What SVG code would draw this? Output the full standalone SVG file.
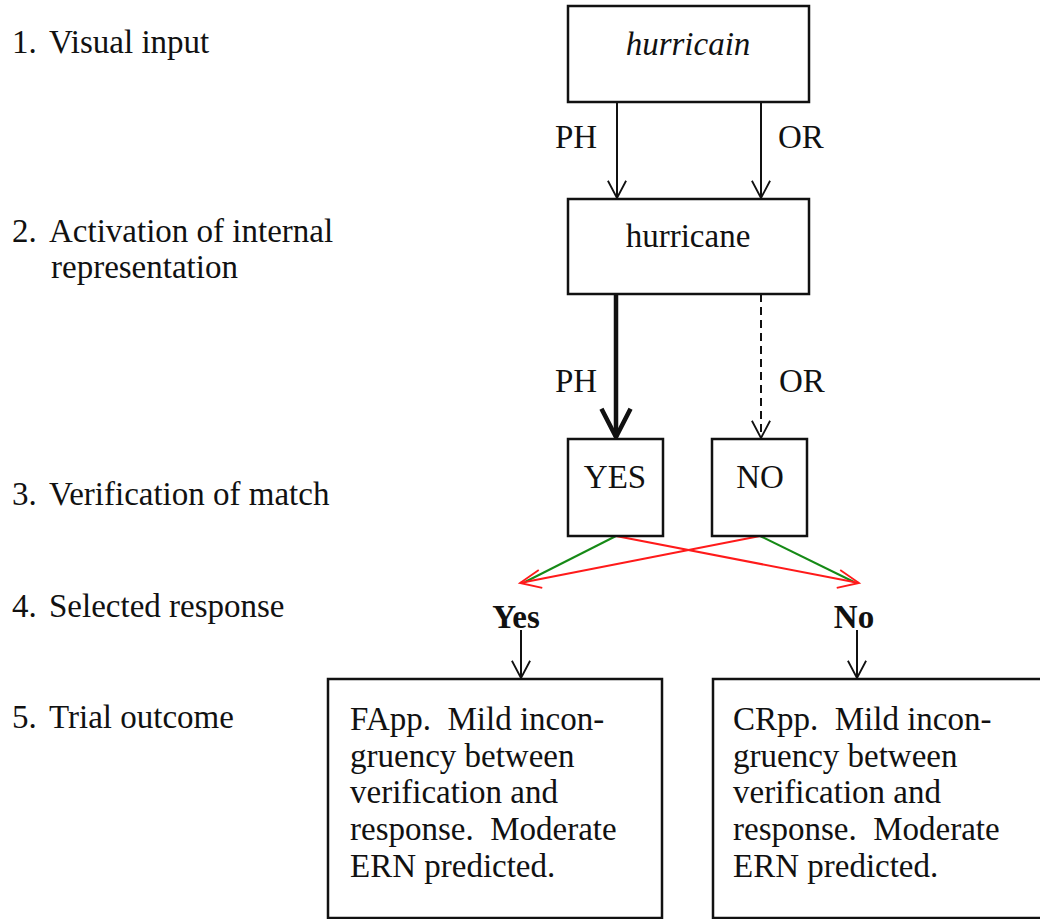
<svg xmlns="http://www.w3.org/2000/svg" width="1040" height="919" viewBox="0 0 1040 919" xml:space="preserve">
<style>
text{font-family:"Liberation Serif","Times New Roman",serif;font-size:33px;fill:#111;white-space:pre}
.box{fill:#fff;stroke:#111;stroke-width:2.5}
.ln{fill:none;stroke:#111;stroke-width:2}
.thick{fill:none;stroke:#111;stroke-width:4.5}
.dash{fill:none;stroke:#111;stroke-width:2;stroke-dasharray:8 5}
.g{fill:none;stroke:#168a16;stroke-width:2}
.r{fill:none;stroke:#ff1a1a;stroke-width:2}
.b{font-weight:bold}
.mid{text-anchor:middle}
</style>
<defs>
<marker id="ah" markerUnits="userSpaceOnUse" orient="auto" refX="0" refY="0" markerWidth="40" markerHeight="40" viewBox="-40 -20 44 40" overflow="visible">
<path d="M-19,-10 L0,0 L-19,10" fill="none" stroke="#111" stroke-width="2"/>
</marker>
<marker id="ahT" markerUnits="userSpaceOnUse" orient="auto" refX="0" refY="0" markerWidth="40" markerHeight="40" viewBox="-40 -20 44 40" overflow="visible">
<path d="M-31,-16 L0,0 L-31,16" fill="none" stroke="#111" stroke-width="5" stroke-linejoin="round"/>
</marker>
<marker id="ahR" markerUnits="userSpaceOnUse" orient="auto" refX="0" refY="0" markerWidth="40" markerHeight="40" viewBox="-40 -20 44 40" overflow="visible">
<path d="M-23,-10 L0,0 L-23,10" fill="none" stroke="#ff1a1a" stroke-width="2"/>
</marker>
</defs>
<rect width="1040" height="919" fill="#fff"/>
<g id="stage-labels">
<text x="12" y="53">1.</text><text x="49" y="53">Visual input</text>
<text x="12" y="242">2.</text><text x="49" y="242">Activation of internal</text>
<text x="51" y="278">representation</text>
<text x="12" y="505">3.</text><text x="49" y="505">Verification of match</text>
<text x="12" y="617">4.</text><text x="49" y="617">Selected response</text>
<text x="12" y="728">5.</text><text x="49" y="728">Trial outcome</text>
</g>
<g id="connectors">
<line class="ln" x1="617" y1="102" x2="617" y2="198" marker-end="url(#ah)"/>
<line class="ln" x1="761" y1="102" x2="761" y2="198" marker-end="url(#ah)"/>
<line class="thick" x1="616" y1="294" x2="616" y2="437" marker-end="url(#ahT)"/>
<line class="dash" x1="761" y1="294" x2="761" y2="438" marker-end="url(#ah)"/>
<line class="g" x1="616" y1="536" x2="525" y2="582"/>
<line class="g" x1="760" y1="536" x2="854" y2="582"/>
<line class="r" x1="760" y1="536" x2="520" y2="583" marker-end="url(#ahR)"/>
<line class="r" x1="616" y1="536" x2="859" y2="583" marker-end="url(#ahR)"/>
<line class="ln" x1="521" y1="630" x2="521" y2="678" marker-end="url(#ah)"/>
<line class="ln" x1="857" y1="630" x2="857" y2="678" marker-end="url(#ah)"/>
<text x="555" y="148">PH</text>
<text x="778" y="148">OR</text>
<text x="555" y="392">PH</text>
<text x="779" y="392">OR</text>
</g>
<g id="visual-input">
<rect class="box" x="568" y="6" width="241" height="96"/>
<text class="mid" x="688" y="55" font-style="italic">hurricain</text>
</g>
<g id="internal-representation">
<rect class="box" x="568" y="199" width="241" height="95"/>
<text class="mid" x="688" y="247">hurricane</text>
</g>
<g id="verify-yes">
<rect class="box" x="568" y="439" width="95" height="97"/>
<text class="mid" x="615" y="488">YES</text>
</g>
<g id="verify-no">
<rect class="box" x="712" y="439" width="95" height="97"/>
<text class="mid" x="760" y="488">NO</text>
</g>
<g id="response-yes">
<text class="b mid" x="516" y="628">Yes</text>
</g>
<g id="response-no">
<text class="b mid" x="854" y="628">No</text>
</g>
<g id="outcome-fapp">
<rect class="box" x="328" y="679" width="334" height="239"/>
<text x="350" y="730">FApp.  Mild incon-</text>
<text x="350" y="767">gruency between</text>
<text x="350" y="803">verification and</text>
<text x="350" y="840">response.  Moderate</text>
<text x="350" y="877">ERN predicted.</text>
</g>
<g id="outcome-crpp">
<rect class="box" x="713" y="679" width="340" height="239"/>
<text x="733" y="730">CRpp.  Mild incon-</text>
<text x="733" y="767">gruency between</text>
<text x="733" y="803">verification and</text>
<text x="733" y="840">response.  Moderate</text>
<text x="733" y="877">ERN predicted.</text>
</g>
</svg>
